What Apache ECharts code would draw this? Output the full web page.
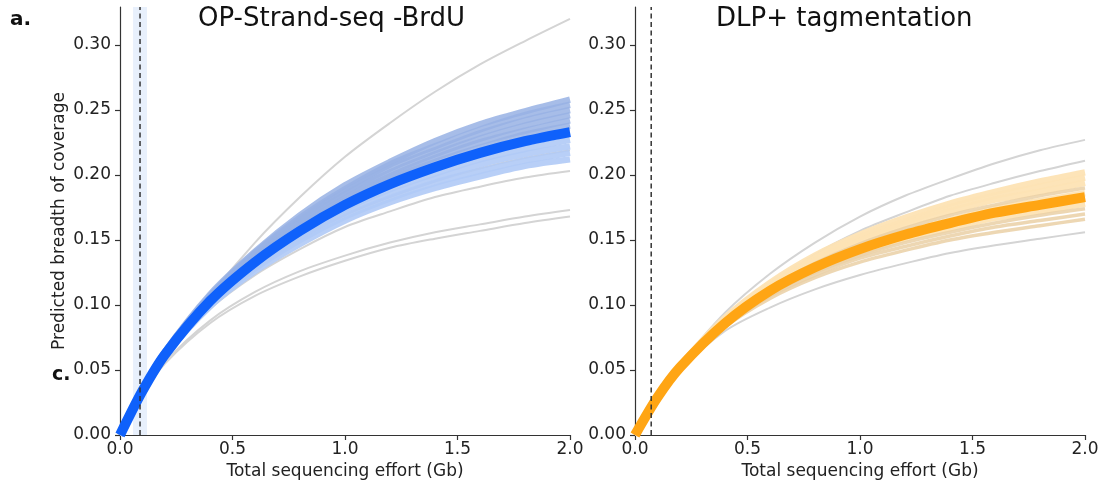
<!DOCTYPE html>
<html>
<head>
<meta charset="utf-8">
<script src="https://cdn.jsdelivr.net/npm/echarts@6/dist/echarts.min.js"></script>
<style>html,body{margin:0;padding:0;background:#fff}#c{width:1106px;height:490px}</style>
</head>
<body>
<div id="c"></div>
<script>
// ---- data ----
const xs = [0, 0.1, 0.2, 0.4, 0.6, 0.8, 1.0, 1.2, 1.4, 1.6, 1.8, 2.0];
const xTicks = [0, 0.5, 1.0, 1.5, 2.0];
const yTicks = [0, 0.05, 0.10, 0.15, 0.20, 0.25, 0.30];
const titles = ['OP-Strand-seq -BrdU', 'DLP+ tagmentation'];

// left panel (OP-Strand-seq -BrdU)
const leftMain = [0, 0.034, 0.062, 0.103, 0.133, 0.157, 0.177, 0.193, 0.206, 0.217, 0.226, 0.233];
const leftBandUpper = [
  [0, 0.035, 0.064, 0.108, 0.141, 0.169, 0.192, 0.210, 0.226, 0.239, 0.249, 0.258],
  [0, 0.034, 0.064, 0.107, 0.140, 0.167, 0.189, 0.208, 0.222, 0.235, 0.246, 0.254],
  [0, 0.034, 0.063, 0.106, 0.139, 0.165, 0.187, 0.205, 0.219, 0.232, 0.242, 0.250],
  [0, 0.034, 0.063, 0.106, 0.137, 0.163, 0.185, 0.202, 0.216, 0.228, 0.238, 0.246],
  [0, 0.034, 0.063, 0.105, 0.136, 0.161, 0.182, 0.199, 0.213, 0.225, 0.234, 0.242],
  [0, 0.034, 0.062, 0.104, 0.135, 0.159, 0.180, 0.197, 0.210, 0.221, 0.231, 0.238]
];
const leftBandLower = [
  [0, 0.034, 0.062, 0.102, 0.131, 0.154, 0.174, 0.189, 0.201, 0.212, 0.220, 0.227],
  [0, 0.034, 0.061, 0.101, 0.129, 0.152, 0.171, 0.185, 0.197, 0.208, 0.216, 0.222],
  [0, 0.034, 0.061, 0.100, 0.128, 0.150, 0.168, 0.182, 0.194, 0.203, 0.211, 0.217],
  [0, 0.034, 0.061, 0.099, 0.126, 0.147, 0.165, 0.179, 0.190, 0.199, 0.207, 0.212]
];
const leftGray = [
  [0, 0.031, 0.059, 0.107, 0.148, 0.183, 0.214, 0.240, 0.264, 0.285, 0.303, 0.320],
  [0, 0.033, 0.060, 0.097, 0.123, 0.143, 0.160, 0.172, 0.183, 0.191, 0.198, 0.203],
  [0, 0.031, 0.056, 0.088, 0.110, 0.126, 0.138, 0.148, 0.156, 0.162, 0.168, 0.173],
  [0, 0.031, 0.055, 0.086, 0.107, 0.122, 0.134, 0.144, 0.151, 0.157, 0.163, 0.168],
  [0, 0.034, 0.062, 0.103, 0.134, 0.158, 0.178, 0.194, 0.208, 0.219, 0.228, 0.235],
  [0, 0.034, 0.061, 0.100, 0.128, 0.151, 0.169, 0.183, 0.195, 0.205, 0.213, 0.219]
];
const leftCutoff = 0.089;
const leftCutoffRange = [0.058, 0.12];

// right panel (DLP+ tagmentation)
const rightMain = [0, 0.029, 0.052, 0.086, 0.111, 0.129, 0.143, 0.154, 0.163, 0.171, 0.177, 0.183];
const rightBandLight = [
  [0, 0.029, 0.053, 0.090, 0.117, 0.138, 0.154, 0.167, 0.178, 0.187, 0.195, 0.202],
  [0, 0.029, 0.053, 0.089, 0.116, 0.136, 0.152, 0.164, 0.175, 0.184, 0.191, 0.198],
  [0, 0.029, 0.053, 0.088, 0.115, 0.134, 0.149, 0.162, 0.172, 0.181, 0.187, 0.194],
  [0, 0.029, 0.052, 0.087, 0.112, 0.130, 0.145, 0.156, 0.165, 0.174, 0.180, 0.186],
  [0, 0.029, 0.052, 0.085, 0.109, 0.127, 0.140, 0.151, 0.159, 0.167, 0.172, 0.178]
];
const rightBandTan = [
  [0, 0.029, 0.053, 0.087, 0.113, 0.132, 0.147, 0.159, 0.169, 0.177, 0.184, 0.190],
  [0, 0.029, 0.051, 0.084, 0.108, 0.125, 0.138, 0.148, 0.156, 0.163, 0.169, 0.174],
  [0, 0.029, 0.051, 0.083, 0.107, 0.123, 0.136, 0.145, 0.153, 0.160, 0.165, 0.170],
  [0, 0.029, 0.051, 0.083, 0.105, 0.121, 0.133, 0.142, 0.150, 0.156, 0.161, 0.166]
];
const rightGray = [
  [0, 0.029, 0.054, 0.094, 0.124, 0.148, 0.168, 0.184, 0.197, 0.209, 0.219, 0.227],
  [0, 0.028, 0.051, 0.088, 0.116, 0.139, 0.157, 0.171, 0.184, 0.194, 0.203, 0.211],
  [0, 0.028, 0.050, 0.080, 0.098, 0.112, 0.123, 0.132, 0.140, 0.146, 0.151, 0.156]
];
const rightCutoff = 0.072;

// ---- chart ----
const FONT = 'DejaVu Sans';
const Y_MAX = 0.3292;
const chart = echarts.init(document.getElementById('c'), null, {renderer: 'canvas'});

function curve(vals, idx, color, width, z) {
  return {
    type: 'line', xAxisIndex: idx, yAxisIndex: idx,
    data: xs.map((x, i) => [x, vals[i]]),
    smooth: 0.3, symbol: 'none', silent: true, z: z,
    lineStyle: {color: color, width: width, cap: 'butt', join: 'round'}
  };
}
function vline(x, idx) {
  return {
    type: 'line', xAxisIndex: idx, yAxisIndex: idx,
    data: [[x, 0], [x, Y_MAX]], symbol: 'none', silent: true, z: 20,
    lineStyle: {color: '#333', width: 1.5, type: [5, 3.5]}
  };
}

function xAxis(idx) {
  return {
    type: 'value', gridIndex: idx, min: 0, max: 2.0, interval: 0.5,
    name: 'Total sequencing effort (Gb)', nameLocation: 'middle', nameGap: 26,
    nameTextStyle: {fontFamily: FONT, fontSize: 17, color: '#222'},
    axisLine: {show: true, lineStyle: {color: '#333', width: 1.2}},
    axisTick: {show: true, length: 5, customValues: xTicks, lineStyle: {color: '#333', width: 1.2}},
    axisLabel: {fontFamily: FONT, fontSize: 17, color: '#222', margin: 6,
      customValues: xTicks, formatter: v => v.toFixed(1)},
    splitLine: {show: false}
  };
}
function yAxis(idx, withName) {
  const a = {
    type: 'value', gridIndex: idx, min: 0, max: Y_MAX,
    axisLine: {show: true, lineStyle: {color: '#333', width: 1.2}},
    axisTick: {show: true, length: 5, customValues: yTicks, lineStyle: {color: '#333', width: 1.2}},
    axisLabel: {fontFamily: FONT, fontSize: 17, color: '#222', margin: 9,
      customValues: yTicks, formatter: v => v.toFixed(2)},
    splitLine: {show: false}
  };
  if (withName) {
    a.name = 'Predicted breadth of coverage';
    a.nameLocation = 'middle';
    a.nameGap = 52;
    a.nameTextStyle = {fontFamily: FONT, fontSize: 17, color: '#222'};
  }
  return a;
}

const series = [];
series.push({
  type: 'line', xAxisIndex: 0, yAxisIndex: 0, data: [], silent: true, z: 1,
  markArea: {silent: true, itemStyle: {color: '#e8f0fc'},
    data: [[{xAxis: leftCutoffRange[0], yAxis: 0}, {xAxis: leftCutoffRange[1], yAxis: Y_MAX}]]}
});
leftGray.forEach(v => series.push(curve(v, 0, '#d4d4d4', 2, 3)));
leftBandUpper.forEach(v => series.push(curve(v, 0, 'rgba(152,178,228,0.85)', 6.5, 4)));
leftBandLower.forEach(v => series.push(curve(v, 0, 'rgba(176,202,246,0.9)', 6.5, 4)));
series.push(curve(leftMain, 0, '#0f61fb', 10, 6));
series.push(vline(leftCutoff, 0));

rightGray.forEach(v => series.push(curve(v, 1, '#d4d4d4', 2, 3)));
rightBandLight.forEach(v => series.push(curve(v, 1, 'rgba(253,227,180,0.95)', 6.5, 4)));
rightBandTan.forEach(v => series.push(curve(v, 1, 'rgba(234,208,166,0.85)', 3.5, 5)));
series.push(curve(rightMain, 1, '#ffa514', 10, 6));
series.push(vline(rightCutoff, 1));

chart.setOption({
  animation: false,
  backgroundColor: '#fff',
  title: [
    {text: titles[0], left: 198, top: 6, padding: 0,
      textStyle: {fontFamily: FONT, fontSize: 26, fontWeight: 'normal', color: '#111'}},
    {text: titles[1], left: 716, top: 6, padding: 0,
      textStyle: {fontFamily: FONT, fontSize: 26, fontWeight: 'normal', color: '#111'}}
  ],
  graphic: [
    {type: 'text', left: 10, top: 10, style: {text: 'a.', font: 'bold 20px "DejaVu Sans"', fill: '#111'}},
    {type: 'text', left: 52, top: 366, style: {text: 'c.', font: 'bold 19px "DejaVu Sans"', fill: '#111'}}
  ],
  grid: [
    {left: 120, top: 7, width: 450, height: 428},
    {left: 635, top: 7, width: 450, height: 428}
  ],
  xAxis: [xAxis(0), xAxis(1)],
  yAxis: [yAxis(0, true), yAxis(1, false)],
  series: series
});
</script>
</body>
</html>
